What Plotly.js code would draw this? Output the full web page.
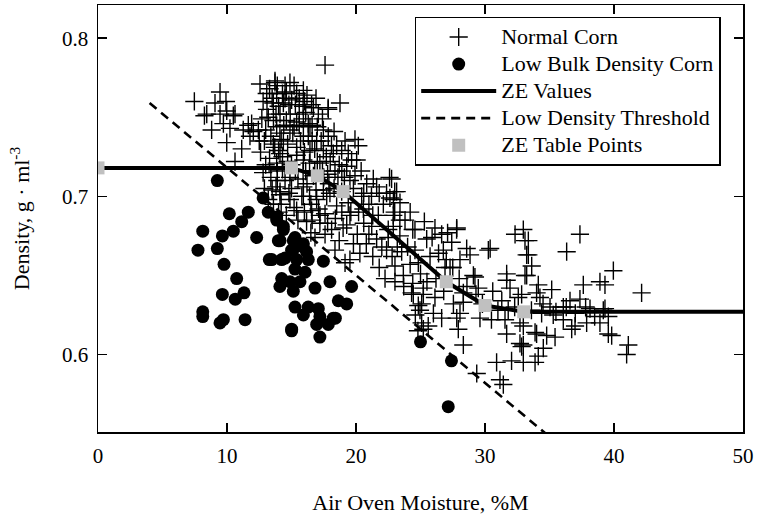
<!DOCTYPE html>
<html>
<head>
<meta charset="utf-8">
<script src="https://cdn.plot.ly/plotly-3.0.1.min.js"></script>
<style>
html,body{margin:0;padding:0;background:#fff;}
#chart{width:761px;height:517px;}
</style>
</head>
<body>
<div id="chart"></div>
<script>
// Normal corn samples [moisture %M, density g/ml]
var normalPts = [
[9.46,0.766],[7.47,0.760],[9.07,0.759],[9.92,0.760],[8.43,0.752],[8.25,0.751],[9.46,0.752],[10.62,0.752],
[8.81,0.742],[9.72,0.746],[10.23,0.743],[9.98,0.734],[11.14,0.730],[11.26,0.742],[11.91,0.746],[11.78,0.738],
[12.43,0.742],[10.62,0.722],[12.56,0.771],[13.72,0.772],[13.08,0.765],[9.98,0.754],[10.49,0.751],[11.65,0.745],
[12.04,0.741],[17.6,0.783],[18.76,0.759],[17.84,0.756],[16.7,0.756],
[13.72,0.773],[14.88,0.772],[14.5,0.770],[15.92,0.767],[15.4,0.765],[13.85,0.765],[15.01,0.761],[16.56,0.758],
[17.85,0.755],[17.08,0.752],[15.92,0.749],[14.37,0.759],[13.59,0.759],[14.11,0.752],[15.4,0.747],[16.43,0.744],
[17.47,0.742],[17.85,0.738],[16.95,0.735],[15.92,0.738],[14.88,0.742],[13.85,0.744],[14.37,0.735],[19.15,0.735],
[19.92,0.736],[20.18,0.732],[18.5,0.732],[18.89,0.729],[20.05,0.723],[19.66,0.723],[19.28,0.719],[18.24,0.727],
[17.47,0.729],[16.43,0.729],[15.4,0.731],[14.11,0.727],[15.92,0.723],[13.85,0.721],[17.2,0.721],[18.37,0.716],
[19.92,0.713],[19.53,0.710],[21.34,0.711],[22.76,0.711],[21.6,0.706],[20.83,0.708],[22.37,0.702],[23.15,0.703],
[13.59,0.733],[14.88,0.712],[15.92,0.706],[17.47,0.704],[14.11,0.703],[17.98,0.702],
[14.11,0.701],[14.88,0.698],[15.92,0.700],[16.95,0.698],[17.73,0.700],[15.4,0.691],[16.56,0.691],[17.6,0.689],
[16.17,0.684],[17.2,0.683],[18.11,0.679],[19.28,0.682],[19.53,0.688],[16.82,0.674],[18.37,0.666],[19.53,0.660],
[19.15,0.658],[22.25,0.648],[23.02,0.646],[20.57,0.692],[20.44,0.700],[21.73,0.688],[21.22,0.681],[21.6,0.673],
[22.37,0.666],[23.02,0.656],[22.5,0.679],[22.89,0.688],[22.12,0.695],[22.63,0.699],[18.89,0.703],
[23.41,0.696],[23.8,0.685],[24.57,0.679],[26.12,0.680],[26.64,0.676],[27.81,0.680],[25.48,0.673],[27.42,0.671],
[26.77,0.666],[28.58,0.667],[30.26,0.666],[28.84,0.663],[28.06,0.660],[25.74,0.662],[24.57,0.666],[23.54,0.665],
[24.83,0.658],[26.9,0.655],[27.29,0.655],[23.67,0.650],[29.1,0.650],[32.33,0.676],[33.1,0.672],[33.23,0.663],
[31.68,0.651],[31.68,0.647],[31.94,0.642],[33.1,0.650],[32.84,0.638],[25.22,0.642],[24.31,0.639],[26.12,0.636],
[28.32,0.639],[29.48,0.642],[25.09,0.632],[27.55,0.632],[29.22,0.649],[22.89,0.681],
[37.36,0.676],[36.33,0.665],[33.36,0.672],[33.36,0.663],[33.62,0.656],[33.23,0.650],[39.95,0.653],[42.14,0.639],
[38.91,0.646],[39.3,0.644],[37.62,0.644],[35.17,0.641],[34.13,0.644],[34.26,0.636],[36.59,0.634],[37.36,0.635],
[36.07,0.630],[35.04,0.630],[38.14,0.629],[39.17,0.628],[34.39,0.626],[35.29,0.625],[36.07,0.622],[36.98,0.618],
[37.88,0.620],[38.91,0.620],[39.56,0.624],[39.56,0.613],[39.82,0.612],[32.97,0.618],[33.88,0.614],[34.78,0.612],
[35.43,0.611],[36.72,0.616],[32.97,0.606],[34.52,0.604],[41.11,0.606],[40.98,0.600],[34.13,0.599],
[24.44,0.638],[25.22,0.638],[24.83,0.631],[24.96,0.628],[26.0,0.626],[26.64,0.623],[25.09,0.620],[25.22,0.616],
[25.6,0.618],[27.93,0.616],[28.32,0.606],[28.06,0.626],[29.61,0.623],[28.32,0.633],[31.55,0.622],[31.68,0.613],
[32.71,0.620],[32.84,0.605],[32.71,0.607],[30.9,0.595],[32.06,0.596],[32.97,0.595],[33.88,0.595],[29.36,0.588],
[31.16,0.584],[31.42,0.581],[32.58,0.636],[34.0,0.639],[34.0,0.613],[27.81,0.623],
[32.97,0.679],[30.4,0.667],[27.8,0.679],[27.1,0.677],[25.9,0.674],[24.4,0.679],[23.4,0.685],[22.9,0.698],
[22.6,0.712],[23.0,0.703],
[12.6,0.728],[12.8,0.715],[12.9,0.705],[13.0,0.742],[13.1,0.755],[13.2,0.698],[13.3,0.724],[13.4,0.712],
[13.5,0.762],[13.6,0.748],[13.7,0.731],[13.8,0.706],[13.9,0.716],[14.0,0.757],[14.1,0.740],[14.2,0.695],
[14.3,0.725],[14.4,0.745],[14.5,0.710],[14.6,0.766],[14.7,0.733],[14.8,0.702],[14.9,0.752],[15.0,0.720],
[15.1,0.740],[15.2,0.693],[15.3,0.758],[15.4,0.726],[15.5,0.711],[15.6,0.745],[15.7,0.735],[15.8,0.700],
[15.9,0.716],[16.0,0.728],[16.1,0.753],[16.2,0.708],[16.3,0.738],[16.4,0.721],[16.5,0.695],[16.6,0.745],
[16.7,0.713],[16.8,0.730],[16.9,0.704],[17.0,0.722],[17.1,0.692],[17.3,0.735],[17.5,0.712],[17.7,0.725],
[17.9,0.708],[18.1,0.732],[18.3,0.705],[18.5,0.694],[18.7,0.720],[18.9,0.690],[19.1,0.712],[19.4,0.696],
[19.8,0.705],[20.2,0.690],[20.6,0.702],[21.0,0.695],[21.3,0.688],[21.8,0.702],[13.3,0.768],[13.9,0.770],
[14.5,0.762],[15.2,0.770],[16.0,0.760],[14.2,0.736],[12.9,0.735],[13.6,0.695],[14.0,0.690],[14.6,0.688],
[15.5,0.685],[16.0,0.690],[16.6,0.685],[17.2,0.688],[17.8,0.683],[18.4,0.686],[19.0,0.680],[18.7,0.672],
[17.6,0.676],[16.5,0.677],[20.1,0.676],[20.8,0.670],[21.3,0.662],[20.3,0.664],[19.8,0.670],[21.8,0.655],
[22.8,0.662],[23.4,0.675],[24.0,0.668],[24.2,0.657],[23.7,0.643],[24.4,0.645],[25.0,0.651],[25.5,0.646],
[26.2,0.648],[26.8,0.640],[27.5,0.655],[28.0,0.648],[28.6,0.643],[29.3,0.638],[29.8,0.632],[30.6,0.640],
[31.0,0.628],[31.3,0.634],[30.5,0.622],[31.8,0.628],[32.3,0.630],[33.6,0.628],[34.5,0.632],[35.5,0.627],
[36.3,0.630],[37.0,0.626],[37.8,0.630],[38.5,0.624],[39.3,0.629],[23.0,0.690],[24.2,0.690],[25.3,0.684],
[26.4,0.664],[27.0,0.660],[22.5,0.674],[24.6,0.625],[24.8,0.615],
[12.7,0.749],[13.4,0.738],[14.8,0.758],[15.6,0.752],[16.3,0.746],[13.0,0.720],[14.0,0.729],[15.3,0.716],
[16.8,0.716],[17.4,0.716],[18.0,0.722],[18.6,0.712],[17.0,0.744],[16.2,0.764],[14.3,0.717],[13.5,0.704],
[12.5,0.735],[15.0,0.705],[16.4,0.700],[19.6,0.690],[20.6,0.683],[21.0,0.676],[22.0,0.668],[23.2,0.668],
[13.2,0.750],[13.8,0.752],[14.6,0.748],[15.2,0.744],[15.9,0.757],[16.6,0.735],[17.4,0.749],[18.3,0.741],
[12.8,0.760],[14.3,0.765],[15.6,0.762],[16.9,0.762],[13.9,0.710],[14.7,0.722],[16.1,0.716],[17.8,0.714],
[18.9,0.716],[19.4,0.727],[20.4,0.716],[21.2,0.700]
];
var lowPts = [
[10.18,0.689],[11.65,0.690],[11.14,0.684],[10.49,0.678],[9.64,0.675],[8.12,0.678],[7.75,0.666],[9.25,0.667],
[12.30,0.674],[9.77,0.657],[13.28,0.660],[10.75,0.648],[9.64,0.638],[11.32,0.639],[10.64,0.635],[8.12,0.627],
[8.12,0.624],[9.46,0.620],[9.72,0.622],[11.40,0.622],[15.01,0.615],[9.25,0.710],[12.8,0.699],
[13.2,0.690],[13.85,0.685],[14.37,0.679],[13.98,0.672],[15.14,0.672],[15.9,0.668],[15.1,0.666],
[13.85,0.687],[14.37,0.681],[14.11,0.672],[15.27,0.674],[15.92,0.670],[15.01,0.666],[16.17,0.665],[14.5,0.661],
[15.4,0.660],[16.3,0.660],[17.47,0.659],[13.47,0.660],[15.27,0.654],[16.05,0.652],[14.24,0.648],[14.88,0.646],
[15.66,0.646],[16.82,0.642],[17.98,0.646],[19.66,0.643],[15.14,0.640],[18.63,0.634],[19.28,0.632],[15.27,0.630],
[16.3,0.630],[17.08,0.629],[15.92,0.625],[17.2,0.624],[18.24,0.623],[16.95,0.619],[17.85,0.619],[15.01,0.616],
[17.2,0.611],[14.24,0.660],[14.1,0.643],[18.4,0.623],
[25.0,0.608],[27.4,0.596],[27.15,0.567]
];
var zeX = [0, 15, 17, 19, 27, 30, 33, 50];
var zeY = [0.718, 0.718, 0.713, 0.703, 0.646, 0.631, 0.627, 0.627];
var threshX = [4, 35];
var threshY = [0.759, 0.548];
var tableX = [0, 15, 17, 19, 27, 30, 33];
var tableY = [0.718, 0.718, 0.713, 0.703, 0.646, 0.631, 0.627];
var xTicks = [0, 10, 20, 30, 40, 50];
var yTicks = [0.6, 0.7, 0.8];
var seriesNames = ['Normal Corn', 'Low Bulk Density Corn', 'ZE Values', 'Low Density Threshold', 'ZE Table Points'];

var serif = '"Liberation Serif", "Times New Roman", serif';
function legendLabel(s){ return '<span style="font-size:22px">' + s + '</span>'; }
var traces = [
  {type:'scatter', mode:'markers', name:legendLabel(seriesNames[0]), legendrank:1,
   x: normalPts.map(function(p){return p[0];}), y: normalPts.map(function(p){return p[1];}),
   marker:{symbol:'cross-thin-open', size:13, color:'#000', line:{color:'#000', width:1.4}}},
  {type:'scatter', mode:'markers', name:legendLabel(seriesNames[1]), legendrank:2,
   x: lowPts.map(function(p){return p[0];}), y: lowPts.map(function(p){return p[1];}),
   marker:{symbol:'circle', size:13, color:'#000', line:{width:0}}},
  {type:'scatter', mode:'lines', name:legendLabel(seriesNames[3]), legendrank:4,
   x: threshX, y: threshY, line:{color:'#000', width:2.6, dash:'9px,6px'}},
  {type:'scatter', mode:'lines', name:legendLabel(seriesNames[2]), legendrank:3,
   x: zeX, y: zeY, line:{color:'#000', width:4}},
  {type:'scatter', mode:'markers', name:legendLabel(seriesNames[4]), legendrank:5,
   x: tableX, y: tableY, marker:{symbol:'square', size:13, color:'#c0c0c0', line:{width:0}}}
];

var axisCommon = {
  showline:true, linecolor:'#000', linewidth:1.5, mirror:'ticks',
  ticks:'inside', ticklen:9, tickwidth:1.5, tickcolor:'#000',
  showgrid:false, zeroline:false,
  tickfont:{family:serif, size:21, color:'#000'}
};
var layout = {
  width:761, height:517,
  margin:{l:98, r:18, t:5, b:85},
  paper_bgcolor:'#fff', plot_bgcolor:'#fff',
  font:{family:serif, color:'#000'},
  showlegend:true,
  legend:{x:0.491, y:0.972, xanchor:'left', yanchor:'top',
    bgcolor:'#fff', bordercolor:'#000', borderwidth:1.5,
    font:{family:serif, size:18.5, color:'#000'}, itemwidth:75, tracegroupgap:0},
  xaxis: Object.assign({}, axisCommon, {
    range:[0,50], tickvals:xTicks, ticktext:xTicks.map(String), ticklabelstandoff:4,
    title:{text:'Air Oven Moisture, %M', font:{family:serif, size:22, color:'#000'}, standoff:28}
  }),
  yaxis: Object.assign({}, axisCommon, {
    range:[0.551,0.821], tickvals:yTicks, ticktext:yTicks.map(function(v){return v.toFixed(1);}), ticklabelstandoff:4,
    title:{text:'Density, g · ml<sup>-3</sup>', font:{family:serif, size:22, color:'#000'}, standoff:26}
  })
};
Plotly.newPlot('chart', traces, layout, {displayModeBar:false, staticPlot:true});
</script>
</body>
</html>
